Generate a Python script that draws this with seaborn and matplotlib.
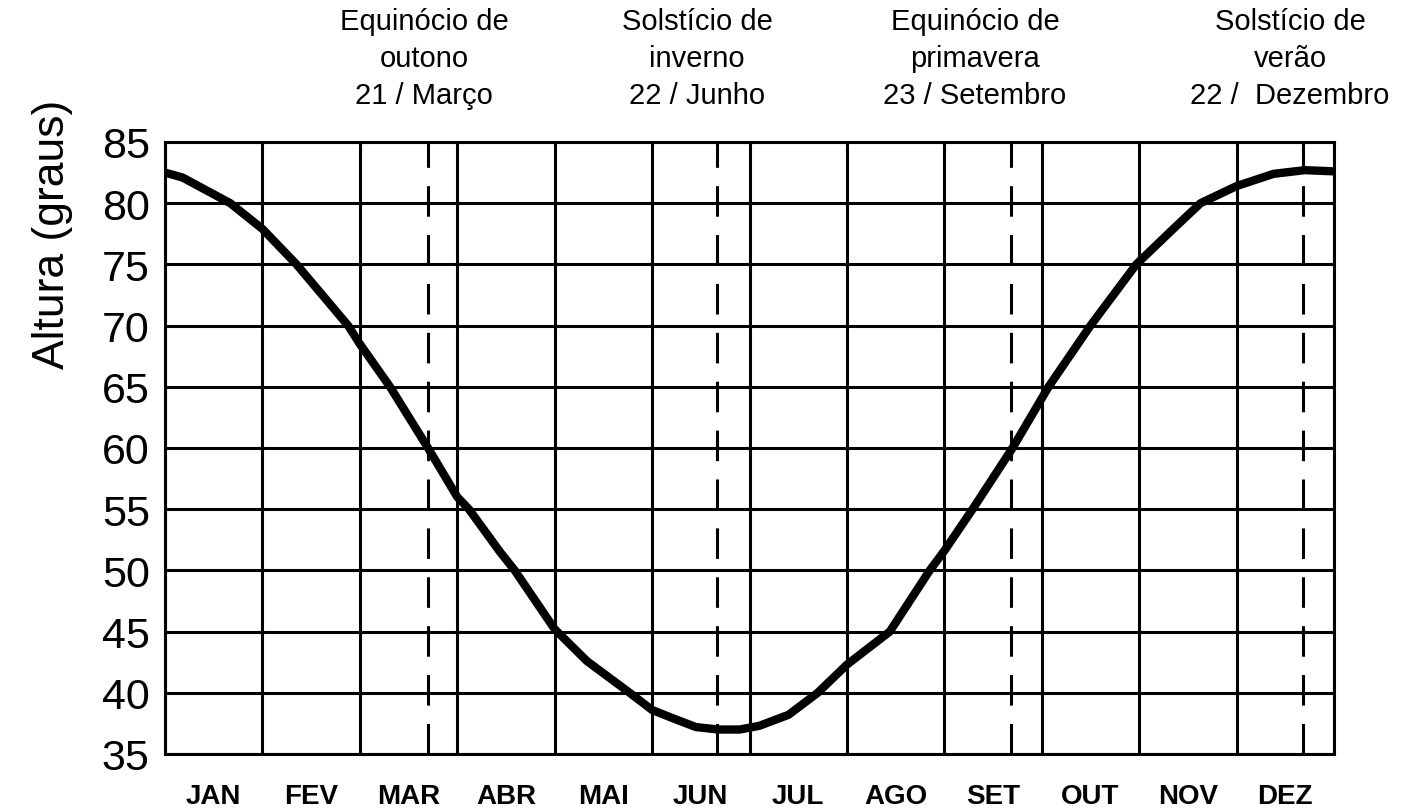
import numpy as np
import pandas as pd
import matplotlib
matplotlib.use("Agg")
import matplotlib.pyplot as plt
import seaborn as sns

# posição no ano (em meses desde 1 de janeiro) e altura do sol ao meio-dia
mes_pos = [0, 0.18, 0.67, 1.0, 1.35, 1.88, 2.0, 2.31, 2.70, 3.0, 3.12, 3.44,
           3.59, 4.0, 4.33, 4.77, 5.0, 5.22, 5.45, 5.68, 5.9, 6.1, 6.4, 6.70,
           7.0, 7.44, 7.85, 8.0, 8.29, 8.70, 9.07, 9.50, 9.97, 10.35, 10.63,
           11.0, 11.38, 11.7, 12]
altura = [82.5, 82.1, 80, 77.9, 75, 70, 68.5, 65, 60, 56.0, 55, 51.5,
          50, 45.2, 42.6, 40, 38.6, 37.9, 37.2, 37.0, 37.0, 37.3, 38.2, 40,
          42.3, 45, 50, 51.6, 55, 60, 65, 70, 75, 77.9, 80,
          81.4, 82.4, 82.7, 82.6]

meses = ["JAN", "FEV", "MAR", "ABR", "MAI", "JUN", "JUL", "AGO", "SET", "OUT", "NOV", "DEZ"]
marcos_pos = [2.70, 5.67, 8.68, 11.68]
marcos_txt = ["Equinócio de\noutono\n21 / Março",
              "Solstício de\ninverno\n22 / Junho",
              "Equinócio de\nprimavera\n23 / Setembro",
              "Solstício de\nverão\n22 /  Dezembro"]
marcos_xpx = [424, 697, 975, 1290]
y_ticks = [35, 40, 45, 50, 55, 60, 65, 70, 75, 80, 85]

sns.set_style("white")
plt.rcParams["font.family"] = ["Liberation Sans", "DejaVu Sans"]
plt.rcParams["text.color"] = "black"
plt.rcParams["axes.labelcolor"] = "black"
plt.rcParams["xtick.color"] = "black"
plt.rcParams["ytick.color"] = "black"

df = pd.DataFrame({"mes": mes_pos, "altura": altura})

fig = plt.figure(figsize=(14.16, 8.12), dpi=100)
ax = fig.add_axes([165 / 1416, 1 - 755 / 812, (1334 - 165) / 1416, (755 - 143) / 812])

ax.grid(True, color="black", linewidth=2.2)
ax.set_axisbelow(True)

for p in marcos_pos:
    ax.axvline(p, color="black", linewidth=2.2, dashes=(10, 6), zorder=2)

sns.lineplot(data=df, x="mes", y="altura", color="black", linewidth=6,
             sort=True, ax=ax, zorder=3, solid_joinstyle="round")

ax.set_xlim(0, 12)
ax.set_ylim(35, 85)
ax.set_xticks(range(13))
ax.set_xticklabels([])
ax.set_xticks(np.arange(12) + 0.5, minor=True)
ax.set_xticklabels(meses, minor=True, fontsize=20, fontweight="bold")
ax.set_yticks(y_ticks)
ax.set_yticklabels([str(v) for v in y_ticks], fontsize=31)

ax.tick_params(axis="both", which="major", direction="inout", length=6, width=6, color="black")
ax.tick_params(axis="y", which="major", pad=8)
ax.tick_params(axis="x", which="minor", length=0, pad=21)

for s in ax.spines.values():
    s.set_color("black")
    s.set_linewidth(2.2)

ax.set_xlabel("")
ax.set_ylabel("Altura (graus)", fontsize=32)
ax.yaxis.set_label_coords(-0.079, 0.85)

for xp, t in zip(marcos_xpx, marcos_txt):
    fig.text(xp / 1416, 1 - 8 / 812, t, ha="center", va="top", fontsize=21,
             linespacing=1.4, multialignment="center")

fig.savefig("out.png", dpi=100)
